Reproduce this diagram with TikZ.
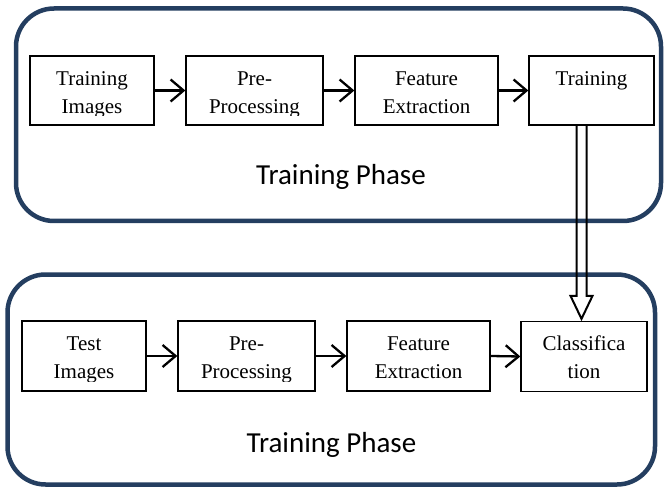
\documentclass[tikz,border=0pt]{standalone}
\usepackage{fontspec}
\setmainfont{Liberation Serif}
\newfontfamily\phasefont{Carlito}
\usetikzlibrary{arrows.meta,calc}
\definecolor{phaseblue}{RGB}{36,62,96}
\newcommand{\stagelabel}[3]{%
  \begin{scope}
    \clip (#1.north west) rectangle ([yshift=10pt]#1.south east);
    \node[stagetext] (#2) at (#1.north) {\rule{0pt}{29.5pt}#3};
  \end{scope}}
\begin{document}
\begin{tikzpicture}[x=1pt,y=-1pt,
  stagebox/.style={draw=black,line width=1.3pt,minimum width=#1pt,minimum height=69pt,inner sep=0pt},
  stagetext/.style={anchor=north,inner sep=0pt,align=center,font=\fontsize{21}{28}\selectfont},
  flow/.style={line width=2.3pt,-{Straight Barb[length=13pt,width=22pt]}},
  phase/.style={draw=phaseblue,line width=4.5pt,rounded corners=38pt,inner sep=0pt},
  phaselabel/.style={anchor=base,inner sep=0pt,font=\phasefont\fontsize{29}{34}\selectfont},
  bigarrow/.style={draw=black,line width=2pt,miter limit=10}
]
\useasboundingbox (0,0) rectangle (664,489);

% phase frames
\node[phase,minimum width=645pt,minimum height=212.5pt] (ph1) at (338.5,114.75) {};
\node[phase,minimum width=647.5pt,minimum height=210pt] (ph2) at (331.25,379.5) {};
\node[phaselabel] (ph1l) at (341,185) {Training Phase};
\node[phaselabel] (ph2l) at (331.5,452) {Training Phase};

% top row
\node[stagebox=124] (ti) at (92,90.5) {};
\node[stagebox=137] (tp) at (254.5,90.5) {};
\node[stagebox=143] (tf) at (426.5,90.5) {};
\node[stagebox=125] (tr) at (591.5,90.5) {};
\stagelabel{ti}{til}{Training\\Images}
\stagelabel{tp}{tpl}{Pre-\\Processing}
\stagelabel{tf}{tfl}{Feature\\Extraction}
\stagelabel{tr}{trl}{Training}

% bottom row
\node[stagebox=124,minimum height=70pt] (bi) at (84,356) {};
\node[stagebox=137,minimum height=70pt] (bp) at (246.5,356) {};
\node[stagebox=143,minimum height=70pt] (bf) at (418.5,356) {};
\node[stagebox=126,minimum height=70pt] (bc) at (584,356.5) {};
\stagelabel{bi}{bil}{Test\\Images}
\stagelabel{bp}{bpl}{Pre-\\Processing}
\stagelabel{bf}{bfl}{Feature\\Extraction}
\stagelabel{bc}{bcl}{Classifica\\tion}

% flows
\draw[flow] (ti.east) -- (tp.west);
\draw[flow] (tp.east) -- (tf.west);
\draw[flow] (tf.east) -- (tr.west);
\draw[flow] (bi.east) -- (bp.west);
\draw[flow] (bp.east) -- (bf.west);
\draw[flow] (bf.east) -- (bc.west);

% hollow block arrow from Training to Classification
\coordinate (dtop) at ([xshift=-10pt]tr.south);
\coordinate (dtip) at ([yshift=2pt]dtop |- bc.north);
\draw[bigarrow] ([xshift=-5pt]dtop) -- ([xshift=-5pt,yshift=23pt]dtip)
  -- ([xshift=-11pt,yshift=23pt]dtip) -- (dtip)
  -- ([xshift=11pt,yshift=23pt]dtip) -- ([xshift=5pt,yshift=23pt]dtip)
  -- ([xshift=5pt]dtop);
\end{tikzpicture}
\end{document}
